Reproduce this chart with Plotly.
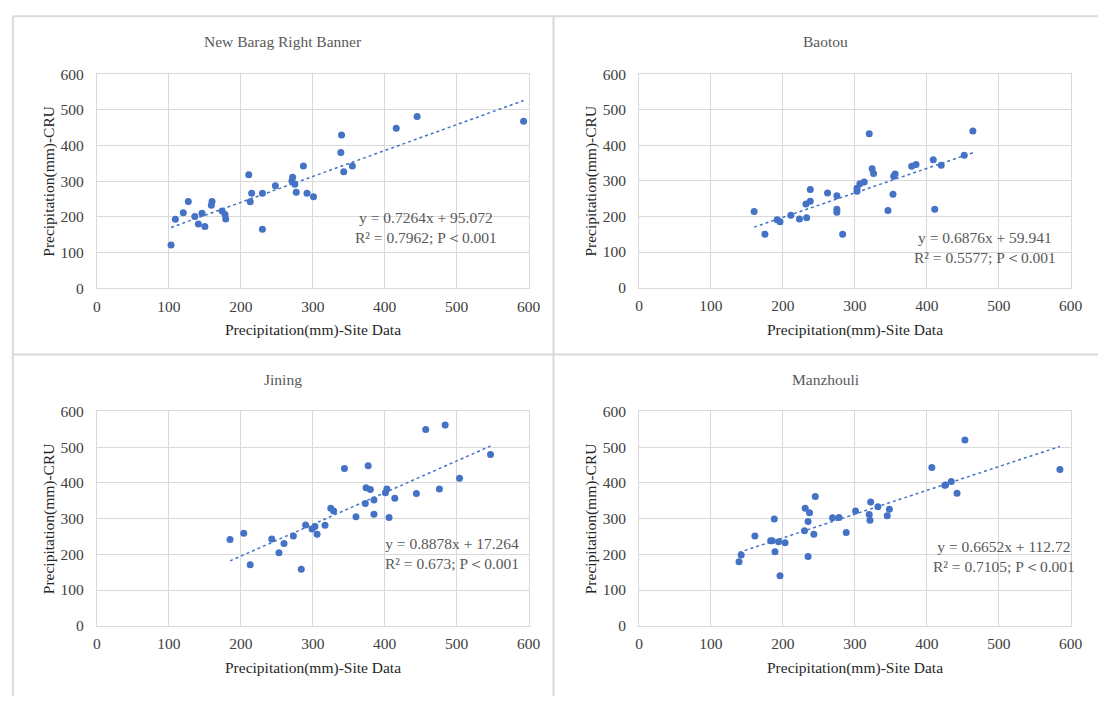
import plotly.graph_objects as go

# ---------------- data ----------------
titles = ["New Barag Right Banner", "Baotou", "Jining", "Manzhouli"]

nb_x = [103, 109, 120, 127, 136, 141, 146, 150, 159, 160, 174, 178, 179, 211, 213, 215, 230, 230,
        248, 271, 272, 275, 277, 287, 292, 301, 339, 340, 343, 355, 416, 445, 593]
nb_y = [121, 193, 211, 243, 201, 180, 210, 173, 232, 243, 216, 206, 194, 318, 242, 266, 266, 165,
        287, 300, 311, 291, 269, 342, 266, 256, 380, 429, 326, 342, 448, 481, 468]

bt_x = [160, 175, 192, 196, 211, 223, 233, 232, 238, 238, 262, 275, 275, 275, 283, 303, 303, 307,
        313, 320, 324, 326, 346, 353, 354, 356, 379, 385, 409, 411, 420, 452, 464]
bt_y = [214, 150, 191, 185, 203, 193, 196, 235, 243, 276, 266, 258, 220, 212, 150, 271, 279, 292,
        297, 432, 334, 321, 217, 262, 313, 319, 341, 346, 359, 220, 344, 372, 440]

jn_x = [185, 204, 213, 243, 253, 260, 273, 284, 290, 299, 303, 306, 317, 325, 329, 344, 360, 373,
        374, 377, 380, 385, 385, 401, 403, 406, 414, 444, 457, 476, 484, 504, 547]
jn_y = [241, 259, 171, 243, 204, 230, 251, 158, 282, 271, 278, 256, 281, 329, 321, 440, 305, 342,
        386, 448, 381, 352, 312, 372, 383, 303, 357, 370, 549, 383, 562, 413, 479]

mz_x = [139, 142, 161, 183, 185, 188, 189, 194, 196, 203, 230, 231, 235, 235, 237, 243, 245, 269,
        278, 288, 301, 320, 321, 322, 332, 345, 348, 407, 425, 426, 434, 442, 453, 585]
mz_y = [179, 198, 251, 238, 238, 299, 207, 235, 140, 232, 266, 329, 292, 194, 316, 256, 362, 302,
        303, 261, 321, 311, 295, 346, 333, 308, 326, 443, 393, 394, 404, 371, 520, 437]

slopes = [0.7264, 0.6876, 0.8878, 0.6652]
intercepts = [95.072, 59.941, 17.264, 112.72]
eq_text = ["y = 0.7264x + 95.072<br>R² = 0.7962; P＜0.001",
           "y = 0.6876x + 59.941<br>R² = 0.5577; P＜0.001",
           "y = 0.8878x + 17.264<br>R² = 0.673; P＜0.001",
           "y = 0.6652x + 112.72<br>R² = 0.7105; P＜0.001"]

tick_vals = [0, 100, 200, 300, 400, 500, 600]
x_title = "Precipitation(mm)-Site Data"
y_title = "Precipitation(mm)-CRU"

# ---------------- layout helpers ----------------
W, H = 1110, 704
BLUE = "#4472C4"
GRID = "#D9D9D9"
FONT = "Liberation Serif"

# plot areas in pixels: (x0, x1, ytop, ybottom)
areas = [(94.3, 532.3, 66.7, 286.0),
         (644.3, 1082.3, 66.7, 285.5),
         (94.3, 532.3, 412.3, 632.0),
         (644.3, 1082.3, 412.3, 632.0)]
chart_centers = [283, 834, 283, 834]
title_y = [33, 33, 380, 380]
eq_pos = [(428, 224), (995, 244), (455, 558), (1015, 561)]

datasets = [(nb_x, nb_y), (bt_x, bt_y), (jn_x, jn_y), (mz_x, mz_y)]

fig = go.Figure()
annotations = []
shapes = []

for i, ((xs, ys), (x0, x1, yt, yb)) in enumerate(zip(datasets, areas)):
    k = "" if i == 0 else str(i + 1)
    xa, ya = "x" + k, "y" + k
    fig.add_trace(go.Scatter(x=xs, y=ys, mode="markers", xaxis=xa, yaxis=ya,
                             marker=dict(color=BLUE, size=7, line=dict(width=0)),
                             showlegend=False, hoverinfo="x+y"))
    lx = [min(xs), max(xs)]
    ly = [slopes[i] * v + intercepts[i] for v in lx]
    fig.add_trace(go.Scatter(x=lx, y=ly, mode="lines", xaxis=xa, yaxis=ya,
                             line=dict(color=BLUE, width=1.5, dash="dot"),
                             showlegend=False, hoverinfo="skip"))
    axis_common = dict(range=[0, 600], tickvals=tick_vals, showgrid=True, gridcolor=GRID,
                       gridwidth=1, zeroline=False, showline=True, linecolor=GRID, linewidth=1,
                       mirror=True, ticks="outside", tickcolor="rgba(0,0,0,0)",
                       tickfont=dict(family=FONT, size=15.5, color="#404040"), fixedrange=True)
    fig.layout["xaxis" + k] = dict(axis_common, domain=[x0 / W, x1 / W], anchor=ya, ticklen=4)
    fig.layout["yaxis" + k] = dict(axis_common, domain=[1 - yb / H, 1 - yt / H], anchor=xa,
                                   ticklen=9)
    # chart title
    annotations.append(dict(text=titles[i], x=chart_centers[i] / W, y=1 - title_y[i] / H,
                            xref="paper", yref="paper", showarrow=False,
                            font=dict(family=FONT, size=15.5, color="#595959"),
                            xanchor="center", yanchor="middle"))
    # axis titles
    annotations.append(dict(text=x_title, x=(x0 + x1) / 2 / W, y=1 - (yb + 43) / H,
                            xref="paper", yref="paper", showarrow=False,
                            font=dict(family=FONT, size=15.5, color="#262626"),
                            xanchor="center", yanchor="middle"))
    annotations.append(dict(text=y_title, x=(x0 - 49) / W, y=1 - (yt + yb) / 2 / H,
                            xref="paper", yref="paper", showarrow=False, textangle=-90,
                            font=dict(family=FONT, size=15.5, color="#262626"),
                            xanchor="center", yanchor="middle"))
    # equation
    ex, ey = eq_pos[i]
    annotations.append(dict(text=eq_text[i], x=ex / W, y=1 - ey / H, xref="paper", yref="paper",
                            showarrow=False, align="center",
                            font=dict(family=FONT, size=15.5, color="#595959"),
                            xanchor="center", yanchor="middle"))

# panel borders
line = dict(color="#D9D9D9", width=2)
shapes.append(dict(type="line", xref="paper", yref="paper", x0=9 / W, x1=1, y0=1 - 7.5 / H,
                   y1=1 - 7.5 / H, line=line))
shapes.append(dict(type="line", xref="paper", yref="paper", x0=9 / W, x1=9 / W, y0=0,
                   y1=1 - 7.5 / H, line=line))
shapes.append(dict(type="line", xref="paper", yref="paper", x0=557.5 / W, x1=557.5 / W, y0=0,
                   y1=1 - 7.5 / H, line=line))
shapes.append(dict(type="line", xref="paper", yref="paper", x0=9 / W, x1=1, y0=1 - 354 / H,
                   y1=1 - 354 / H, line=line))

fig.update_layout(width=W, height=H, margin=dict(l=0, r=0, t=0, b=0),
                  paper_bgcolor="white", plot_bgcolor="white",
                  annotations=annotations, shapes=shapes, showlegend=False)

fig.write_html("out.html", config={"displayModeBar": False})

# remove the default page margin so the figure fills the window exactly
with open("out.html", "r", encoding="utf-8") as f:
    html = f.read()
style = ("<style>html,body{margin:0;padding:0;overflow:hidden;width:%dpx;height:%dpx;}"
         "body>div{line-height:0;font-size:0;}</style>" % (W, H))
if "</head>" in html:
    html = html.replace("</head>", style + "</head>", 1)
else:
    html = style + html
with open("out.html", "w", encoding="utf-8") as f:
    f.write(html)
